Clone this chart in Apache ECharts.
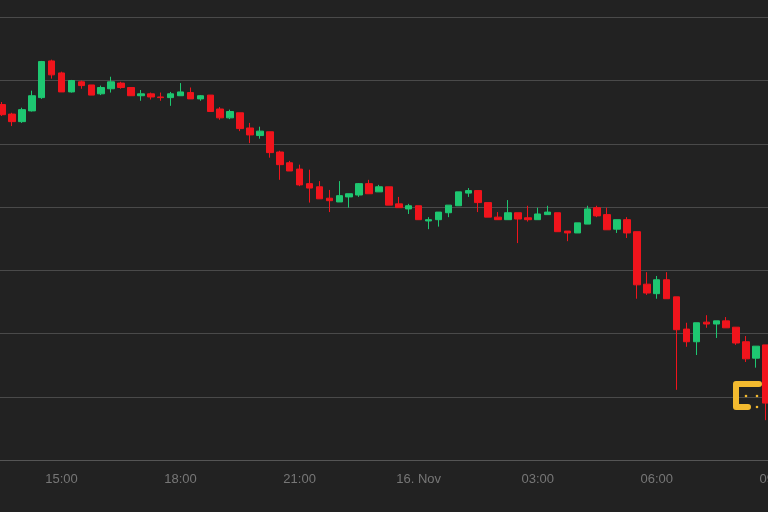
<!DOCTYPE html>
<html><head><meta charset="utf-8">
<script src="https://cdn.jsdelivr.net/npm/echarts@6/dist/echarts.min.js"></script>
<style>html,body{margin:0;background:#222222;}#c{width:768px;height:512px;}</style>
</head><body><div id="c"></div>
<script>
const opens=[16562,16547,16535,16552,16573,16631,16612,16582,16598,16593,16579,16587,16596,16589,16576,16579,16574,16573,16576,16581,16571,16577,16555,16541,16549,16525,16513,16519,16487,16470,16460,16437,16432,16414,16408,16416,16419,16437,16424,16432,16405,16397,16402,16378,16380,16391,16402,16422,16426,16407,16384,16380,16391,16383,16380,16388,16391,16362,16359,16373,16399,16388,16365,16380,16361,16278,16263,16285,16258,16207,16187,16218,16215,16220,16210,16187,16161,16182];
const closes=[16546,16535,16554,16576,16630,16609,16582,16600,16592,16577,16589,16598,16589,16576,16579,16574,16573,16579,16582,16571,16576,16551,16541,16551,16524,16514,16520,16486,16467,16457,16435,16430,16413,16410,16418,16421,16437,16421,16432,16403,16399,16402,16380,16380,16392,16403,16424,16426,16407,16384,16380,16391,16381,16380,16389,16392,16361,16359,16375,16397,16386,16364,16380,16359,16277,16264,16285,16255,16206,16187,16217,16215,16220,16209,16185,16160,16180,16090];
const lows=[16544,16528,16533,16551,16571,16603,16582,16581,16587,16577,16577,16581,16587,16576,16568,16570,16568,16560,16576,16571,16568,16551,16538,16539,16520,16501,16508,16478,16443,16457,16433,16407,16413,16392,16408,16399,16416,16421,16424,16403,16399,16389,16380,16365,16369,16384,16402,16416,16392,16384,16380,16380,16343,16377,16380,16388,16361,16346,16359,16373,16384,16364,16359,16351,16255,16261,16255,16255,16111,16179,16166,16209,16193,16209,16182,16155,16146,16063];
const highs=[16566,16549,16557,16584,16631,16633,16614,16601,16600,16593,16592,16606,16598,16589,16585,16581,16581,16582,16596,16589,16577,16577,16558,16554,16549,16533,16527,16519,16489,16473,16467,16459,16441,16427,16441,16421,16438,16443,16435,16432,16416,16405,16402,16384,16392,16403,16424,16430,16426,16407,16392,16411,16391,16402,16399,16402,16391,16362,16375,16402,16402,16399,16380,16384,16361,16297,16291,16297,16258,16217,16217,16229,16220,16226,16210,16196,16180,16182];
const tickLabels={"15:00":"15:00","18:00":"18:00","21:00":"21:00","00:00":"16. Nov","03:00":"03:00","06:00":"06:00","09:00":"09:00"};
const categories=[];
for(let i=0;i<79;i++){const m=13*60+30+15*i;const h=Math.floor(m/60)%24,mm=m%60;categories.push(String(h).padStart(2,'0')+':'+String(mm).padStart(2,'0'));}
const data=opens.map((o,i)=>[o,closes[i],lows[i],highs[i]]);
const chart=echarts.init(document.getElementById('c'));
chart.setOption({
  backgroundColor:'#222222',animation:false,
  grid:{left:-2.96,width:783.7,top:-8,height:468,containLabel:false,outerBoundsMode:'none'},
  xAxis:{type:'category',data:categories,boundaryGap:true,
    axisLine:{lineStyle:{color:'#555555',width:1}},axisTick:{show:false},
    axisLabel:{color:'#777777',fontSize:13,fontFamily:'Liberation Sans, Arial',margin:13,
      interval:(i,v)=>v in tickLabels,formatter:v=>tickLabels[v]},
    splitLine:{show:false}},
  yAxis:{type:'value',min:16000,max:16740,interval:100,position:'right',
    axisLabel:{show:false},axisLine:{show:false},axisTick:{show:false},
    splitLine:{lineStyle:{color:'#4a4a4a',width:1}}},
  series:[{type:'candlestick',data:data,barWidth:7,
    itemStyle:{color:'#1ec771',color0:'#f0141c',borderColor:'#1ec771',borderColor0:'#f0141c',borderWidth:1}}],
  graphic:[
    {type:'polyline',z:100,shape:{points:[[759,384],[736,384],[736,407],[748,407]]},style:{stroke:'#f3ba2f',lineWidth:6,fill:null,lineCap:'round',lineJoin:'round'}},
    {type:'circle',z:100,shape:{cx:746,cy:396,r:1.3},style:{fill:'#f3ba2f'}},
    {type:'circle',z:100,shape:{cx:757,cy:396,r:1.3},style:{fill:'#f3ba2f'}},
    {type:'circle',z:100,shape:{cx:757,cy:407,r:1.3},style:{fill:'#f3ba2f'}}
  ]
});
</script></body></html>
